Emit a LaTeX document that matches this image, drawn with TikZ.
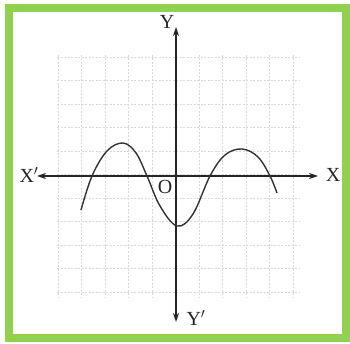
\documentclass[tikz,border=0pt]{standalone}
\usepackage{fontspec}
\setmainfont{Liberation Serif}
\usetikzlibrary{arrows.meta}
\definecolor{framegreen}{RGB}{146,208,80}
\begin{document}
\begin{tikzpicture}[x=1pt,y=-1pt,
  axis/.style={line width=1.3pt, black!85, -{Stealth[length=9pt,width=6pt]}},
  gridline/.style={gray!30, line width=0.6pt, dash pattern=on 2pt off 1.5pt},
  lbl/.style={font=\fontsize{20}{20}\selectfont, inner sep=0pt, text=black!85},
  curve/.style={line width=1.4pt, black!80}]
\useasboundingbox (0,0) rectangle (350,344);
\fill[white] (0,0) rectangle (350,344);
% faint grid
\foreach \y in {57,80.5,104,127.5,151,174.5,198,221.5,245,268.5,292}
  \draw[gridline] (57,\y) -- (300,\y);
\foreach \x in {58,81.5,105,128.5,152,175.5,199,222.5,246,269.5,293}
  \draw[gridline] (\x,55) -- (\x,297);
% axes
\coordinate (O) at (176,176);
\coordinate (xl) at (37,176);
\coordinate (xr) at (318,176);
\coordinate (yt) at (176,27);
\coordinate (yb) at (176,322);
\draw[axis] (O) -- (xl);
\draw[axis] (O) -- (xr);
\draw[axis] (O) -- (yt);
\draw[axis] (O) -- (yb);
% labels
\node[lbl] (lX1) at (29,175) {X$'$};
\node[lbl] (lX) at (333,175) {X};
\node[lbl] (lY) at (167,22) {Y};
\node[lbl] (lY1) at (196,318) {Y$'$};
\node[lbl] (lO) at (165,187) {O};
% curve
\draw[curve] plot[smooth, tension=0.6] coordinates
  {(81,210) (92,176) (107,151) (123,143) (136,153) (147,176) (160,206) (177,226) (193,214) (210,176) (225,155) (242,149) (258,157) (270,176) (277,193)};
% frame
\draw[framegreen, line width=8pt] (9,8) rectangle (346,338);
\end{tikzpicture}
\end{document}
